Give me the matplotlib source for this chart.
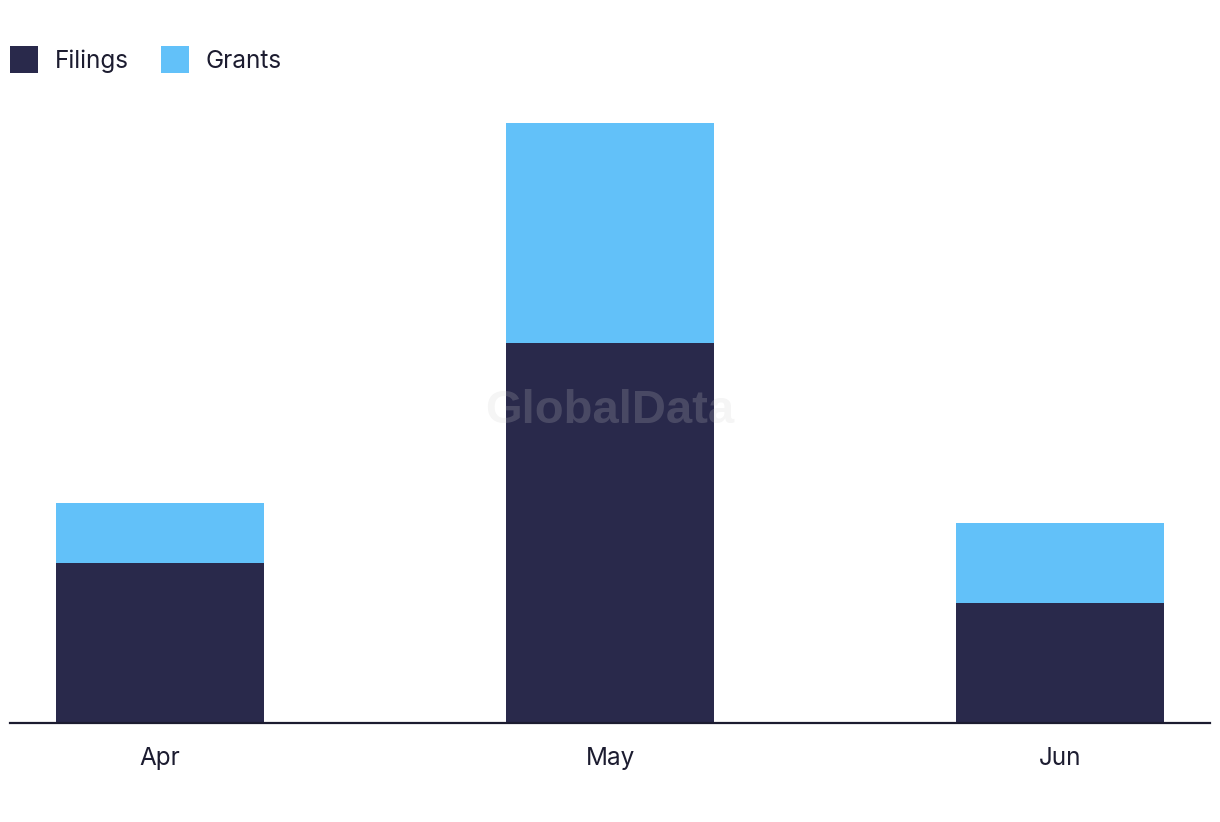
import matplotlib
matplotlib.use("Agg")
import matplotlib.pyplot as plt
import numpy as np

# data
months = ["Apr", "May", "Jun"]
filings = [8, 19, 6]
grants = [3, 11, 4]

FILINGS_COLOR = "#29294b"
GRANTS_COLOR = "#62c1f9"
TEXT_COLOR = "#1c1c30"

plt.rcParams['font.family'] = ['Inter', 'DejaVu Sans']

fig = plt.figure(figsize=(12.2, 8.22), dpi=100)
ax = fig.add_axes([10 / 1220, 99 / 822, 1200 / 1220, 623 / 822])

x = np.arange(len(months))
width = 0.462
ax.bar(x, filings, width, color=FILINGS_COLOR, label="Filings")
ax.bar(x, grants, width, bottom=filings, color=GRANTS_COLOR, label="Grants")

ax.set_xlim(-0.333, 2.333)
ax.set_ylim(0, 31.15)
ax.set_xticks(x)
ax.set_xticklabels(months, fontsize=17.5, color=TEXT_COLOR)
ax.tick_params(axis='x', length=0, pad=17)
ax.set_yticks([])
for side in ["top", "right", "left"]:
    ax.spines[side].set_visible(False)
ax.spines["bottom"].set_color(TEXT_COLOR)
ax.spines["bottom"].set_linewidth(1.6)

# watermark
fig.text(0.5, 0.5, "GlobalData", ha="center", va="center", fontsize=34,
         fontweight="bold", color="#cdcdcd", alpha=0.2, family=['Liberation Sans', 'DejaVu Sans'])

leg = fig.legend(loc="upper left", bbox_to_anchor=(10 / 1220, 1 - 46 / 822), ncol=2, frameon=False,
                 fontsize=17.5, handlelength=1.15, handleheight=1.34, handletextpad=0.7,
                 columnspacing=1.3, borderaxespad=0, borderpad=0)
for t in leg.get_texts():
    t.set_color(TEXT_COLOR)

fig.savefig("out.png", dpi=100)
